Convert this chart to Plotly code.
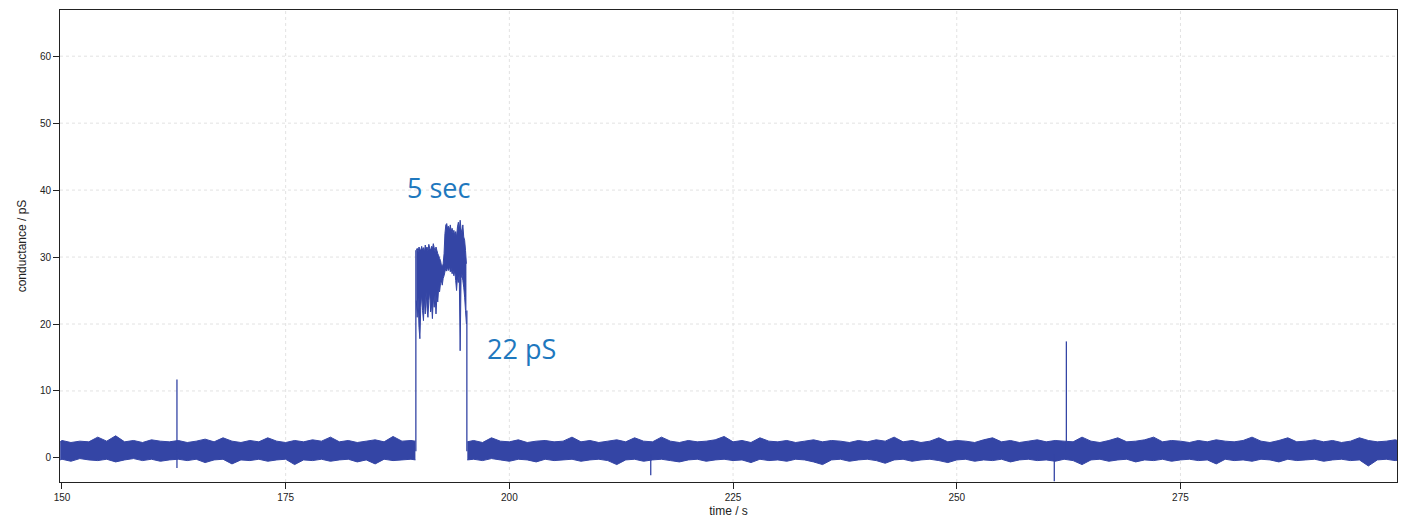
import plotly.graph_objects as go

# ---------------- data ----------------
# baseline before the opening: noise envelope per second (time / s, pS)
seg1_t = [149.8] + list(range(150, 190)) + [189.5]
seg1_upper = [2.4, 2.6, 2.3, 2.5, 2.4, 3.1, 2.5, 3.3, 2.4, 2.6,
              2.3, 2.7, 2.5, 2.4, 2.6, 2.3, 2.5, 2.8, 2.4, 3.0,
              2.5, 2.3, 2.6, 2.4, 3.0, 2.5, 2.3, 2.6, 2.4, 2.7,
              2.5, 3.1, 2.4, 2.6, 2.3, 2.5, 2.7, 2.4, 3.2, 2.5,
              2.6, 2.5]
seg1_lower = [-0.3, -0.2, -0.5, -0.1, -0.3, -0.4, -0.2, -0.6, -0.3, -0.1,
              -0.4, -0.2, -0.5, -0.3, -0.2, -0.4, -0.2, -0.7, -0.3, -0.2,
              -0.9, -0.3, -0.4, -0.2, -0.5, -0.3, -0.2, -1.0, -0.3, -0.4,
              -0.2, -0.5, -0.3, -0.2, -0.6, -0.3, -0.9, -0.2, -0.4, -0.3,
              -0.2, -0.3]

# baseline after the opening
seg2_t = [195.3] + list(range(196, 300)) + [299.5]
seg2_upper = [2.4, 2.6, 2.3, 3.0, 2.5, 2.4, 2.7, 2.3, 2.5, 2.6,
              2.4, 2.5, 3.1, 2.4, 2.6, 2.3, 2.5, 2.7, 2.4, 3.0,
              2.5, 2.4, 3.1, 2.5, 2.3, 2.6, 2.4, 2.5, 2.7, 3.2,
              2.4, 2.6, 2.3, 3.0, 2.5, 2.4, 2.6, 2.3, 2.5, 2.7,
              2.4, 2.6, 2.5, 2.3, 2.6, 2.4, 2.7, 2.5, 3.1, 2.4,
              2.6, 2.3, 2.5, 3.0, 2.4, 2.6, 2.5, 2.3, 2.7, 3.0,
              2.4, 2.6, 2.3, 2.5, 2.7, 2.4, 2.6, 2.5, 2.4, 3.1,
              2.5, 2.3, 2.6, 3.0, 2.4, 2.5, 2.7, 3.1, 2.4, 2.6,
              2.5, 2.3, 2.6, 2.4, 2.7, 2.5, 2.4, 2.6, 3.1, 2.5,
              2.3, 2.6, 3.0, 2.4, 2.5, 2.7, 2.4, 2.6, 2.3, 2.5,
              3.0, 2.6, 2.4, 2.5, 2.7, 2.5]
seg2_lower = [-0.3, -0.2, -0.4, -0.1, -0.3, -0.5, -0.2, -0.3, -0.6, -0.2,
              -0.4, -0.3, -0.2, -0.5, -0.3, -0.2, -0.4, -1.0, -0.3, -0.2,
              -0.5, -0.3, -0.2, -0.4, -0.6, -0.3, -0.2, -0.5, -0.3, -0.2,
              -0.4, -0.3, -0.7, -0.2, -0.4, -0.3, -0.5, -0.2, -0.3, -0.6,
              -1.0, -0.3, -0.2, -0.5, -0.3, -0.2, -0.4, -0.8, -0.3, -0.2,
              -0.5, -0.3, -0.2, -0.4, -0.7, -0.3, -0.2, -0.5, -0.3, -0.4,
              -0.2, -0.6, -0.3, -0.2, -0.4, -0.3, -0.5, -0.2, -0.4, -1.0,
              -0.3, -0.2, -0.5, -0.3, -0.2, -0.6, -0.3, -0.4, -0.2, -0.5,
              -0.3, -0.2, -0.4, -0.3, -0.9, -0.2, -0.4, -0.3, -0.5, -0.2,
              -0.3, -0.6, -0.2, -0.4, -0.3, -0.2, -0.5, -0.3, -0.2, -0.4,
              -0.3, -1.2, -0.3, -0.2, -0.4, -0.3]

# channel opening (burst), envelope every 0.1 s
burst_t = [round(189.6 + 0.1 * i, 1) for i in range(57)]
burst_upper = [31.0, 31.3, 30.8, 31.5, 31.2, 30.9, 31.6, 31.0, 31.4, 30.7,
               31.8, 31.2, 31.5, 30.9, 31.9, 31.3, 31.0, 31.6, 31.2, 32.0,
               31.4, 30.8, 31.5, 31.0, 30.5, 30.2, 29.8, 29.5, 28.8, 28.5,
               29.0, 30.5, 33.5, 34.8, 35.0, 34.2, 34.6, 34.0, 34.8, 33.8,
               34.3, 33.5, 34.0, 33.2, 33.8, 33.0, 34.5, 35.2, 34.0, 35.5,
               34.2, 33.5, 34.8, 33.0, 32.5, 31.0, 29.0]
burst_lower = [23.5, 21.0, 24.0, 19.5, 17.8, 22.5, 24.5, 22.0, 20.5, 23.8,
               21.5, 24.8, 22.3, 21.0, 23.5, 25.0, 21.8, 23.0, 20.8, 24.2,
               22.5, 24.5, 21.5, 24.0, 23.3, 25.5, 24.8, 26.0, 26.5, 25.8,
               26.8, 27.2, 27.8, 28.3, 27.9, 28.5, 28.0, 28.6, 27.8, 28.3,
               27.5, 28.0, 27.2, 28.0, 26.5, 25.0, 27.0, 26.2, 27.5, 16.0,
               26.8, 27.5, 26.5, 25.5, 24.0, 22.0, 20.0]

# isolated vertical excursions (time, from, to) incl. opening / closing edges
spike_t = [162.85, 162.85, 189.55, 195.25, 215.8, 260.9, 262.25]
spike_lo = [1.0, -1.5, 1.0, 1.0, -2.6, -3.5, 1.0]
spike_hi = [11.7, 0.5, 31.0, 22.0, 0.5, 0.5, 17.4]

x_ticks = [150, 175, 200, 225, 250, 275]
y_ticks = [0, 10, 20, 30, 40, 50, 60]

# ---------------- figure ----------------
TRACE = "#3445A5"
GRID = "#e2e2e2"
fig = go.Figure()

# dotted grid drawn beneath the data
for v in x_ticks[1:]:
    fig.add_shape(type="line", xref="x", yref="paper", x0=v, x1=v, y0=0, y1=1,
                  line=dict(color=GRID, width=1, dash="dot"), layer="below")
for v in y_ticks[1:]:
    fig.add_shape(type="line", xref="paper", yref="y", x0=0, x1=1, y0=v, y1=v,
                  line=dict(color=GRID, width=1, dash="dot"), layer="below")


def add_band(t, up, lo):
    fig.add_trace(go.Scatter(
        x=t, y=lo, mode="lines",
        line=dict(color=TRACE, width=1, simplify=False),
        hoverinfo="skip", showlegend=False))
    fig.add_trace(go.Scatter(
        x=t, y=up, mode="lines", fill="tonexty", fillcolor=TRACE,
        line=dict(color=TRACE, width=1, simplify=False),
        hoverinfo="skip", showlegend=False))


add_band(seg1_t, seg1_upper, seg1_lower)
add_band(seg2_t, seg2_upper, seg2_lower)
add_band(burst_t, burst_upper, burst_lower)

sx, sy = [], []
for t, a, b in zip(spike_t, spike_lo, spike_hi):
    sx += [t, t, None]
    sy += [a, b, None]
fig.add_trace(go.Scatter(x=sx, y=sy, mode="lines",
                         line=dict(color=TRACE, width=1.3),
                         hoverinfo="skip", showlegend=False))

ann_font = dict(family="Open Sans", size=27, color="#1E78BE")
fig.add_annotation(x=192.1, y=40.4, text="5 sec", showarrow=False,
                   font=ann_font, xanchor="center", yanchor="middle")
fig.add_annotation(x=201.3, y=16.4, text="22 pS", showarrow=False,
                   font=ann_font, xanchor="center", yanchor="middle")

axis_common = dict(
    showline=True, mirror=True, linecolor="#222", linewidth=1,
    ticks="outside", ticklen=6, tickcolor="#222", tickwidth=1,
    showgrid=False, zeroline=False, automargin=False,
    tickfont=dict(family="Liberation Sans", size=10, color="#222"),
)

fig.update_xaxes(range=[149.78, 299.2], tickvals=x_ticks, **axis_common,
                 title=dict(text="time / s", standoff=4,
                            font=dict(family="Liberation Sans", size=12, color="#222")))
fig.update_yaxes(range=[-3.6, 66.9], tickvals=y_ticks, **axis_common,
                 title=dict(text="conductance / pS", standoff=10,
                            font=dict(family="Liberation Sans", size=12, color="#222")))

# the page body adds an 8 px offset, so the figure is sized to fit inside
fig.update_layout(
    width=1392, height=514,
    margin=dict(l=52, r=3, t=2, b=40),
    paper_bgcolor="white", plot_bgcolor="white",
)

fig.write_html("out.html")
